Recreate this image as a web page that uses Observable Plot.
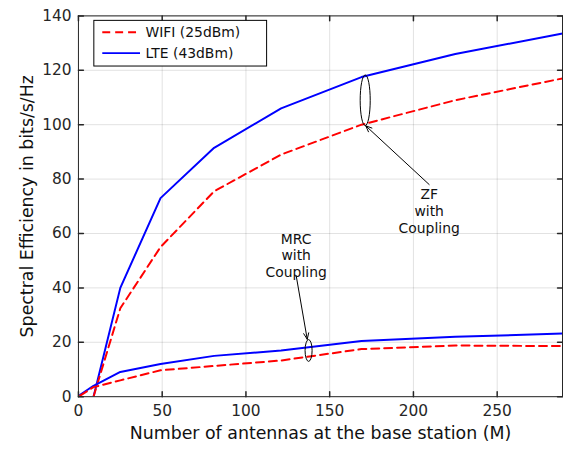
<!DOCTYPE html>
<html><head><meta charset="utf-8">
<script src="https://cdn.jsdelivr.net/npm/d3@7"></script>
<script src="https://cdn.jsdelivr.net/npm/@observablehq/plot@0.6"></script>
<style>
html,body{margin:0;padding:0;background:#fff;overflow:hidden;}
#chart{width:563px;height:449px;overflow:hidden;position:relative;}
</style></head><body><div id="chart"></div>
<script>
// ---- data ----
const antennasMRC = [1, 9, 25, 49, 81, 121, 169, 225, 289];
const antennasZF = [9, 25, 49, 81, 121, 169, 225, 289];
const lteZF = [0, 40, 73, 91.5, 106, 117.5, 126, 133.5];
const wifiZF = [0, 32.5, 55, 75.5, 89, 100, 109, 117];
const lteMRC = [0.7, 4, 9.1, 12, 15, 17, 20.5, 22, 23.2];
const wifiMRC = [0.4, 3.5, 6, 9.7, 11.3, 13.3, 17.5, 18.8, 18.6];
const seriesNames = ["WIFI (25dBm)", "LTE (43dBm)"];
const xTicks = [0, 50, 100, 150, 200, 250];
const yTicks = [0, 20, 40, 60, 80, 100, 120, 140];
const xDomain = [0, 289];
const yDomain = [0, 140];
const xLabel = "Number of antennas at the base station (M)";
const yLabel = "Spectral Efficiency in bits/s/Hz";
const ellipses = [
  {x: 171.5, y: 108.8, rx: 3.0, ry: 9.3},
  {x: 137.7, y: 16.8, rx: 2.1, ry: 4.0}
];
const arrows = [
  {x1: 209.4, y1: 78.0, x2: 171.5, y2: 99.6},
  {x1: 130.0, y1: 44.5, x2: 136.6, y2: 21.1}
];
const notes = [
  {x: 209.4, y: 76.9, text: "ZF\nwith\nCoupling"},
  {x: 130.0, y: 60.6, text: "MRC\nwith\nCoupling"}
];

const mk = (xs, ys, name, kind) => xs.map((x, i) => ({x, y: ys[i], name, kind}));
const lteZFData = mk(antennasZF, lteZF, seriesNames[1], "ZF");
const wifiZFData = mk(antennasZF, wifiZF, seriesNames[0], "ZF");
const lteMRCData = mk(antennasMRC, lteMRC, seriesNames[1], "MRC");
const wifiMRCData = mk(antennasMRC, wifiMRC, seriesNames[0], "MRC");

const FONT = "DejaVu Sans";
const AXC = "#262626";
const tickShape = {draw(context, l) { context.moveTo(0, 0); context.lineTo(0, -l); }};

const ellipseMark = Plot.dot(ellipses, {
  x: "x", y: "y",
  render(index, scales, values, dimensions, context) {
    const g = d3.create("svg:g");
    for (const i of index) {
      const d = ellipses[i];
      const cx = scales.x(d.x), cy = scales.y(d.y);
      const rx = Math.abs(scales.x(d.x + d.rx) - cx);
      const ry = Math.abs(scales.y(d.y + d.ry) - cy);
      g.append("ellipse").attr("cx", cx).attr("cy", cy).attr("rx", rx).attr("ry", ry)
        .attr("fill", "none").attr("stroke", "black").attr("stroke-width", 1);
    }
    return g.node();
  }
});

const plot = Plot.plot({
  width: 567,
  height: 449,
  marginLeft: 78.5,
  marginRight: 1,
  marginTop: 15.5,
  marginBottom: 50,
  style: {fontFamily: FONT, background: "white", overflow: "visible"},
  x: {domain: xDomain, ticks: xTicks},
  y: {domain: yDomain, ticks: yTicks},
  marks: [
    Plot.gridX(xTicks, {stroke: "#000", strokeOpacity: 0.12}),
    Plot.gridY(yTicks, {stroke: "#000", strokeOpacity: 0.12}),
    Plot.axisX(xTicks, {tickSize: 0, tickPadding: 8, fontSize: 15.5, fill: AXC, label: null}),
    Plot.axisY(yTicks, {tickSize: 0, tickPadding: 7, fontSize: 15.5, fill: AXC, label: null}),
    Plot.line(lteZFData, {x: "x", y: "y", stroke: "#0000ff", strokeWidth: 2, clip: true}),
    Plot.line(wifiZFData, {x: "x", y: "y", stroke: "#ff0000", strokeWidth: 2, strokeDasharray: "8,5", clip: true}),
    Plot.line(lteMRCData, {x: "x", y: "y", stroke: "#0000ff", strokeWidth: 2, clip: true}),
    Plot.line(wifiMRCData, {x: "x", y: "y", stroke: "#ff0000", strokeWidth: 2, strokeDasharray: "8,5", clip: true}),
    Plot.frame({stroke: AXC, strokeWidth: 1}),
    Plot.vector(xTicks, {x: d => d, y: yDomain[0], length: 5, rotate: 0, anchor: "start", shape: tickShape, stroke: AXC}),
    Plot.vector(xTicks, {x: d => d, y: yDomain[1], length: 5, rotate: 180, anchor: "start", shape: tickShape, stroke: AXC}),
    Plot.vector(yTicks, {y: d => d, x: xDomain[0], length: 5, rotate: 90, anchor: "start", shape: tickShape, stroke: AXC}),
    Plot.vector(yTicks, {y: d => d, x: xDomain[1], length: 5, rotate: -90, anchor: "start", shape: tickShape, stroke: AXC}),
    ellipseMark,
    Plot.arrow(arrows, {x1: "x1", y1: "y1", x2: "x2", y2: "y2", bend: 0, headLength: 10, headAngle: 45, stroke: "black", strokeWidth: 1}),
    Plot.text(notes, {x: "x", y: "y", text: "text", lineAnchor: "top", lineHeight: 1.2, fontSize: 14, fill: "#111"}),
    Plot.text([xLabel], {text: d => d, frameAnchor: "bottom", textAnchor: "middle", dy: 37, lineAnchor: "middle", fontSize: 17.5, fill: "#111"}),
    Plot.text([yLabel], {text: d => d, frameAnchor: "left", textAnchor: "middle", dx: -51, rotate: -90, lineAnchor: "middle", fontSize: 17.5, fill: "#111"})
  ]
});

// legend inside the axes (top-left)
const svg = d3.select(plot);
const lg = svg.append("g").attr("font-family", FONT).attr("font-size", 14).attr("text-anchor", "start");
lg.append("rect").attr("x", 94.5).attr("y", 20.5).attr("width", 174).attr("height", 46)
  .attr("fill", "white").attr("stroke", "black").attr("stroke-width", 1);
const legendItems = [
  {name: seriesNames[0], color: "#ff0000", dash: "8,5"},
  {name: seriesNames[1], color: "#0000ff", dash: null}
];
legendItems.forEach((it, i) => {
  const y = 32.5 + i * 21;
  const ln = lg.append("line").attr("x1", 103).attr("x2", 141).attr("y1", y).attr("y2", y)
    .attr("stroke", it.color).attr("stroke-width", 2);
  if (it.dash) ln.attr("stroke-dasharray", it.dash);
  lg.append("text").attr("x", 146.5).attr("y", y).attr("dy", "0.35em")
    .attr("text-anchor", "start").attr("fill", "#111").text(it.name);
});

document.getElementById("chart").appendChild(plot);
</script></body></html>
